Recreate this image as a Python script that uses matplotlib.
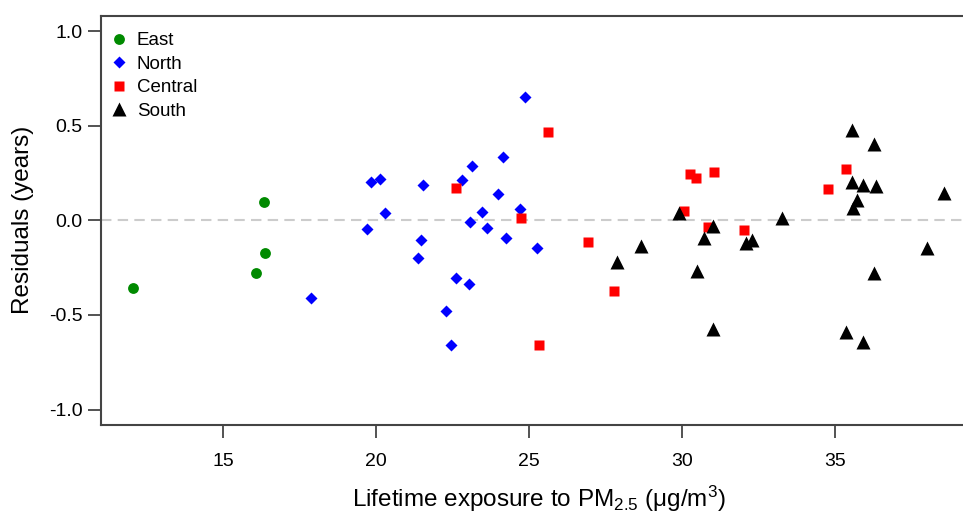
#!/usr/bin/env python3
''' Residuals vs lifetime PM2.5 exposure, by region
'''

import matplotlib
matplotlib.use('Agg')
from matplotlib import pyplot

#
# data
#

east_x = [12.05, 16.07, 16.32, 16.36]
east_y = [-0.358, -0.278, 0.099, -0.175]

north_x = [17.87, 24.85, 24.15, 23.13, 19.82, 20.12, 21.53, 22.80, 23.99,
           20.29, 23.46, 24.70, 19.69, 23.05, 23.63, 24.25, 21.46, 25.26,
           21.35, 22.60, 23.03, 22.29, 22.44]
north_y = [-0.410, 0.650, 0.334, 0.289, 0.202, 0.217, 0.188, 0.211, 0.137,
           0.039, 0.042, 0.060, -0.046, -0.009, -0.042, -0.095, -0.102, -0.146,
           -0.199, -0.305, -0.338, -0.477, -0.660]

central_x = [25.60, 22.59, 24.72, 26.91, 27.77, 25.32, 30.25, 30.44, 31.04,
             30.05, 30.85, 32.02, 35.35, 34.78]
central_y = [0.467, 0.171, 0.014, -0.113, -0.373, -0.657, 0.243, 0.226, 0.254,
             0.048, -0.035, -0.053, 0.269, 0.164]

south_x = [35.55, 36.27, 35.56, 35.92, 36.34, 35.73, 35.60, 38.56, 33.26,
           29.88, 31.00, 30.71, 32.07, 32.29, 38.00, 28.65, 27.88, 30.50,
           36.27, 31.00, 35.35, 35.90]
south_y = [0.479, 0.405, 0.201, 0.188, 0.181, 0.109, 0.067, 0.146, 0.011,
           0.037, -0.028, -0.095, -0.121, -0.104, -0.148, -0.136, -0.220, -0.268,
           -0.278, -0.574, -0.588, -0.641]

xticks = [15, 20, 25, 30, 35]
yticks = [-1.0, -0.5, 0.0, 0.5, 1.0]

#
# plot
#

pyplot.rcParams['font.family'] = ['Liberation Sans', 'DejaVu Sans']
pyplot.rcParams['mathtext.fontset'] = 'custom'
pyplot.rcParams['mathtext.rm'] = 'Liberation Sans'
pyplot.rcParams['mathtext.it'] = 'Liberation Sans'

W, H = 963, 513
fig = pyplot.figure(figsize=(W / 100, H / 100), dpi=100)
ax = fig.add_axes([101 / W, (H - 424.7) / H, 1 - 101 / W, (424.7 - 16) / H])

ax.axhline(0, color='#cccccc', lw=1.5, ls=(0, (5, 3)), zorder=1)

ax.plot(east_x, east_y, ls='', marker='o', ms=7.8, color='#008a00',
        mec='none', label='East', zorder=3)
ax.plot(north_x, north_y, ls='', marker='D', ms=6.5, color='#0000ff',
        mec='none', label='North', zorder=3)
ax.plot(central_x, central_y, ls='', marker='s', ms=7.8, color='#ff0000',
        mec='none', label='Central', zorder=3)
ax.plot(south_x, south_y, ls='', marker='^', ms=9.5, color='black',
        mec='none', label='South', zorder=3)

ax.set_xlim(11.0, 39.18)
ax.set_ylim(-1.08, 1.08)
ax.set_xticks(xticks)
ax.set_yticks(yticks)
ax.set_yticklabels(['{:.1f}'.format(v) for v in yticks])

for s in ['left', 'bottom', 'top']:
    ax.spines[s].set_color('#444444')
    ax.spines[s].set_linewidth(1.5)
ax.spines['right'].set_visible(False)
ax.tick_params(direction='out', length=9.5, width=1.3, color='#444444',
               labelsize=14, pad=4)
ax.tick_params(axis='x', pad=11)

# axis titles placed by hand, as in the original
fig.text(539 / W, 1 - 507 / H, 'Lifetime exposure to PM$_{2.5}$ (μg/m$^3$)',
         fontsize=17.5, ha='center', va='baseline')
fig.text(23 / W, 1 - 220 / H, 'Residuals (years)', fontsize=17.5,
         rotation=90, ha='center', va='center')

ax.legend(loc='upper left', frameon=False, fontsize=13.5, handletextpad=0.46,
          labelspacing=0.34, borderpad=0, borderaxespad=0, handlelength=1.0,
          bbox_to_anchor=(109.6 / W, 1 - 32 / H),
          bbox_transform=fig.transFigure)

fig.savefig('out.png', dpi=100)
